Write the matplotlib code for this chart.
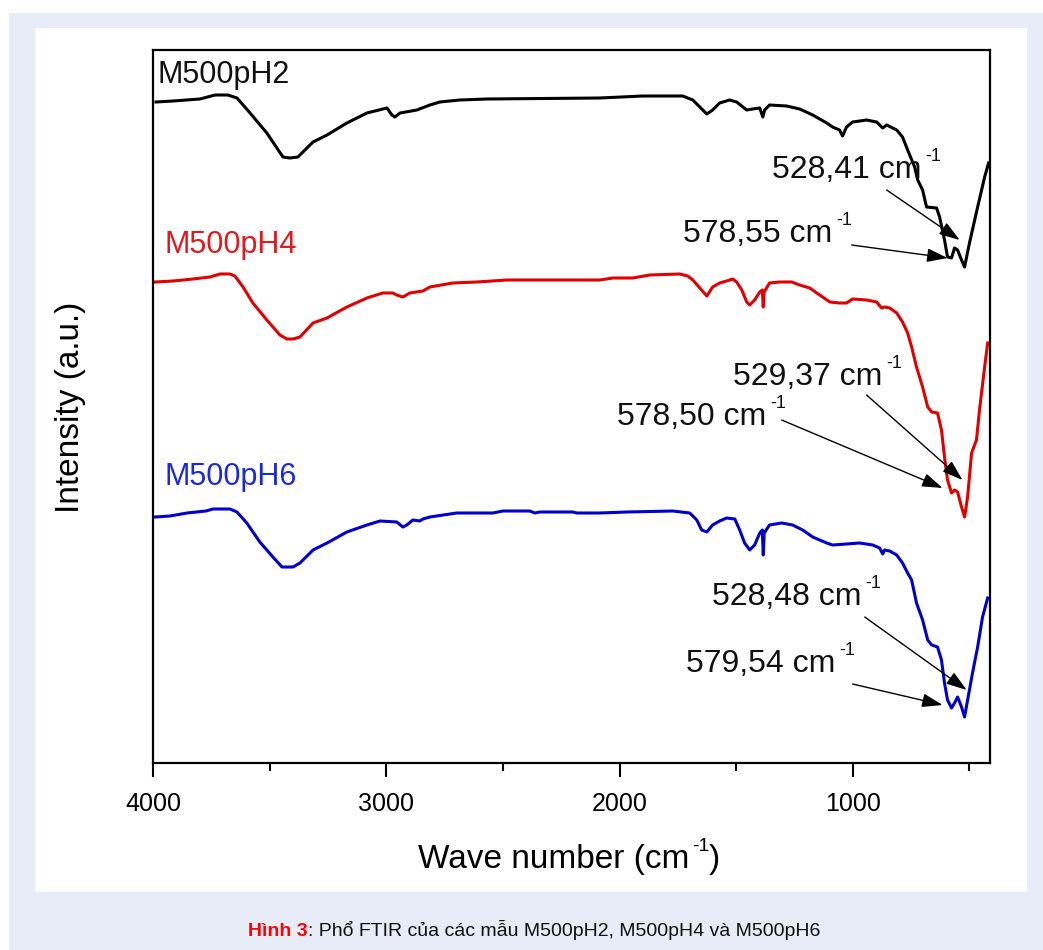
import numpy as np
import matplotlib
matplotlib.use('Agg')
import matplotlib.pyplot as plt
from matplotlib.patches import Rectangle
from matplotlib import font_manager

plt.rcParams['font.family'] = ['Liberation Sans', 'DejaVu Sans']
plt.rcParams['mathtext.default'] = 'regular'

names = {f.name for f in font_manager.fontManager.ttflist}
narrow = 'Liberation Sans Narrow' if 'Liberation Sans Narrow' in names else 'Liberation Sans'

# FTIR spectra (wave number in cm-1, intensity in a.u.)
wn_pH2 = [3987, 3914, 3799, 3734, 3679, 3640, 3584, 3512, 3443, 3413, 3379, 3314, 3254, 3169,
          3083, 2997, 2976, 2963, 2941, 2869, 2813, 2770, 2685, 2569, 2085, 1901, 1729, 1686,
          1656, 1626, 1601, 1571, 1528, 1498, 1455, 1429, 1399, 1386, 1378, 1357, 1284, 1228,
          1172, 1112, 1087, 1057, 1044, 1027, 1001, 941, 898, 872, 855, 812, 787, 765, 735,
          722, 701, 684, 641, 628, 607, 594, 577, 564, 551, 534, 521, 500, 465, 435, 418]
int_pH2 = [66.1, 66.2, 66.4, 66.8, 66.8, 66.5, 65.0, 63.0, 60.6, 60.5, 60.6, 62.1, 62.8, 64.0,
           65.0, 65.5, 64.8, 64.6, 65.0, 65.3, 65.8, 66.1, 66.3, 66.4, 66.5, 66.7, 66.7, 66.3,
           65.6, 64.9, 65.3, 66.0, 66.3, 66.1, 65.3, 65.4, 65.5, 64.6, 65.3, 65.8, 65.7, 65.4,
           64.8, 64.0, 63.6, 63.3, 62.7, 63.6, 64.1, 64.3, 64.1, 63.5, 63.8, 63.3, 62.6, 61.3, 59.6,
           58.3, 57.3, 55.6, 55.5, 54.6, 52.3, 50.6, 50.5, 51.5, 51.3, 50.3, 49.6, 52.0, 55.6, 58.6, 60.0]

wn_pH4 = [3991, 3914, 3829, 3756, 3713, 3670, 3649, 3614, 3572, 3512, 3456, 3426, 3400, 3370,
          3314, 3254, 3169, 3083, 3015, 2972, 2955, 2929, 2899, 2843, 2813, 2715, 2612, 2483,
          2085, 2029, 1943, 1871, 1742, 1708, 1686, 1656, 1626, 1601, 1571, 1541, 1515, 1498,
          1476, 1455, 1442, 1421, 1399, 1388, 1384, 1380, 1357, 1314, 1262, 1228, 1185, 1142,
          1099, 1057, 1027, 1001, 941, 898, 877, 864, 842, 812, 787, 765, 748, 727, 701, 679,
          662, 637, 620, 607, 594, 577, 564, 551, 534, 521, 508, 491, 470, 457, 435, 422]
int_pH4 = [48.1, 48.2, 48.4, 48.6, 48.9, 48.9, 48.7, 47.6, 46.0, 44.3, 42.8, 42.4, 42.4, 42.6,
           44.0, 44.5, 45.6, 46.5, 47.0, 47.0, 46.8, 46.6, 47.0, 47.2, 47.6, 48.0, 48.1, 48.3,
           48.3, 48.5, 48.5, 48.8, 48.9, 48.7, 48.3, 47.5, 46.7, 47.6, 48.0, 48.2, 48.4, 48.1,
           47.3, 46.1, 45.8, 46.3, 47.1, 47.3, 45.6, 47.1, 48.0, 48.1, 48.1, 47.8, 47.5, 46.8,
           46.1, 46.0, 46.0, 46.4, 46.3, 46.1, 45.5, 45.6, 45.5, 45.0, 44.1, 43.0, 41.6, 39.6, 37.6, 35.6,
           35.1, 35.0, 33.3, 30.6, 28.3, 27.0, 27.3, 27.1, 25.6, 24.6, 26.6, 31.0, 32.3, 35.3, 39.6, 42.0]

wn_pH6 = [3991, 3927, 3854, 3773, 3743, 3670, 3640, 3598, 3542, 3486, 3447, 3400, 3370, 3314,
          3254, 3169, 3083, 3027, 2955, 2929, 2912, 2886, 2856, 2843, 2813, 2698, 2543, 2500,
          2385, 2363, 2342, 2201, 2183, 2085, 1969, 1772, 1699, 1669, 1648, 1626, 1601, 1571,
          1541, 1506, 1485, 1464, 1442, 1421, 1399, 1388, 1384, 1380, 1357, 1305, 1258, 1215,
          1172, 1112, 1087, 1027, 971, 915, 885, 872, 864, 842, 812, 787, 765, 748, 727, 701,
          679, 662, 637, 620, 607, 594, 577, 564, 551, 534, 521, 508, 487, 465, 444, 422]
int_pH6 = [24.6, 24.7, 25.0, 25.2, 25.4, 25.4, 25.1, 24.0, 22.1, 20.6, 19.6, 19.6, 20.0, 21.3,
           22.0, 23.1, 23.8, 24.2, 24.1, 23.6, 23.8, 24.3, 24.2, 24.4, 24.6, 25.0, 25.0, 25.2,
           25.2, 25.0, 25.1, 25.1, 25.0, 25.0, 25.1, 25.2, 25.0, 24.3, 23.3, 23.1, 23.8, 24.2,
           24.5, 24.4, 23.3, 22.0, 21.3, 21.8, 23.0, 23.3, 20.8, 23.0, 23.8, 24.0, 23.8, 23.3,
           22.6, 22.0, 21.8, 21.9, 22.0, 21.8, 21.5, 20.9, 21.3, 21.2, 20.8, 20.0, 19.0, 18.3, 16.0, 14.3,
           12.3, 11.8, 11.6, 10.3, 8.0, 6.3, 5.5, 6.0, 6.6, 5.6, 4.6, 6.3, 9.0, 11.6, 14.6, 16.5]

samples = ['M500pH2', 'M500pH4', 'M500pH6']
line_colors = ['#000000', '#e00000', '#0000cc']
label_colors = ['#111111', '#e0191f', '#1a2ad6']

# peak labels: text, text anchor, arrow tail, arrow head
peak_texts = ['528,41', '578,55', '529,37', '578,50', '528,48', '579,54']
peak_text_pos = [(1348, 58.5), (1729, 52.1), (1515, 37.8), (2012, 33.8), (1605, 15.8), (1716, 9.1)]
peak_tail = [(855, 57.3), (1005, 51.8), (941, 36.8), (1305, 34.3), (949, 14.6), (1001, 7.9)]
peak_head = [(542, 52.3), (594, 50.5), (530, 28.3), (615, 27.5), (512, 7.3), (615, 5.8)]

fig = plt.figure(figsize=(10.43, 9.5), dpi=100)
fig.patch.set_facecolor('white')
# page background and white panel
fig.add_artist(Rectangle((9/1043, 0), 1 - 9/1043, 1 - 13/950, transform=fig.transFigure,
                         facecolor='#e7ecf6', edgecolor='none', zorder=-2))
fig.add_artist(Rectangle((35/1043, 1 - 892/950), (1027 - 35)/1043, (892 - 28)/950,
                         transform=fig.transFigure, facecolor='white', edgecolor='none', zorder=-1))

ax = fig.add_axes([153/1043, 1 - 763/950, (990 - 153)/1043, (763 - 50)/950])
ax.plot(wn_pH2, int_pH2, color=line_colors[0], lw=2.2)
ax.plot(wn_pH4, int_pH4, color=line_colors[1], lw=2.2)
ax.plot(wn_pH6, int_pH6, color=line_colors[2], lw=2.2)

ax.set_xlim(4000, 412)
ax.set_ylim(0, 71.3)
ax.set_xticks([4000, 3000, 2000, 1000])
ax.set_xticks([3500, 2500, 1500, 500], minor=True)
ax.set_yticks([])
ax.tick_params(axis='x', which='major', direction='out', length=10, width=1.5, pad=11,
               labelsize=18)
ax.tick_params(axis='x', which='minor', direction='out', length=6, width=1.5)
for lab in ax.get_xticklabels():
    lab.set_family([narrow, 'Liberation Sans'])
for sp in ax.spines.values():
    sp.set_linewidth(1.6)

ax.text(3979, 68.0, samples[0], color=label_colors[0], fontsize=22, va='baseline')
ax.text(3949, 51.0, samples[1], color=label_colors[1], fontsize=22, va='baseline')
ax.text(3949, 27.8, samples[2], color=label_colors[2], fontsize=22, va='baseline')


def sup_after(artist, s, size, dx=3, dy=5, **kw):
    # small raised "-1" placed right after the given text
    return ax.annotate(s, xy=(1, 1), xycoords=artist, xytext=(dx, dy),
                       textcoords='offset points', ha='left', va='top', fontsize=size,
                       annotation_clip=False, **kw)


for t, p, a, b in zip(peak_texts, peak_text_pos, peak_tail, peak_head):
    main = ax.text(p[0], p[1], t + ' cm', fontsize=23, va='baseline', ha='left', color='#111111')
    sup_after(main, '-1', 13, color='#111111')
    ax.annotate('', xy=b, xytext=a,
                arrowprops=dict(arrowstyle='-|>,head_length=0.9,head_width=0.3',
                                color='black', lw=1.0, shrinkA=0, shrinkB=0, mutation_scale=14))

xl = fig.text(418/1043, 1 - 868/950, 'Wave number (cm', fontsize=24, ha='left',
              va='baseline', family=[narrow, 'Liberation Sans'])
sup_after(xl, '-1', 14, dx=2, dy=4)
ax.annotate(')', xy=(1, 0), xycoords=xl, xytext=(14, 0), textcoords='offset points',
            ha='left', va='bottom', fontsize=24, annotation_clip=False,
            family=[narrow, 'Liberation Sans'])
fig.text(71/1043, 1 - 407/950, 'Intensity (a.u.)', fontsize=24, ha='center', va='center',
         rotation=90)

cap_font = [narrow, 'Noto Sans', 'DejaVu Sans']
t1 = fig.text(248/1043, 1 - 936/950, 'Hình 3', fontsize=14, fontweight='bold', color='#ff0000',
              ha='left', va='baseline', family=cap_font)
ax.annotate(': Phổ FTIR của các mẫu M500pH2, M500pH4 và M500pH6', xy=(1, 0),
            xycoords=t1, va='bottom', ha='left', fontsize=14, color='#111111',
            family=cap_font, annotation_clip=False)

fig.savefig('out.png', dpi=100, facecolor=fig.get_facecolor())
